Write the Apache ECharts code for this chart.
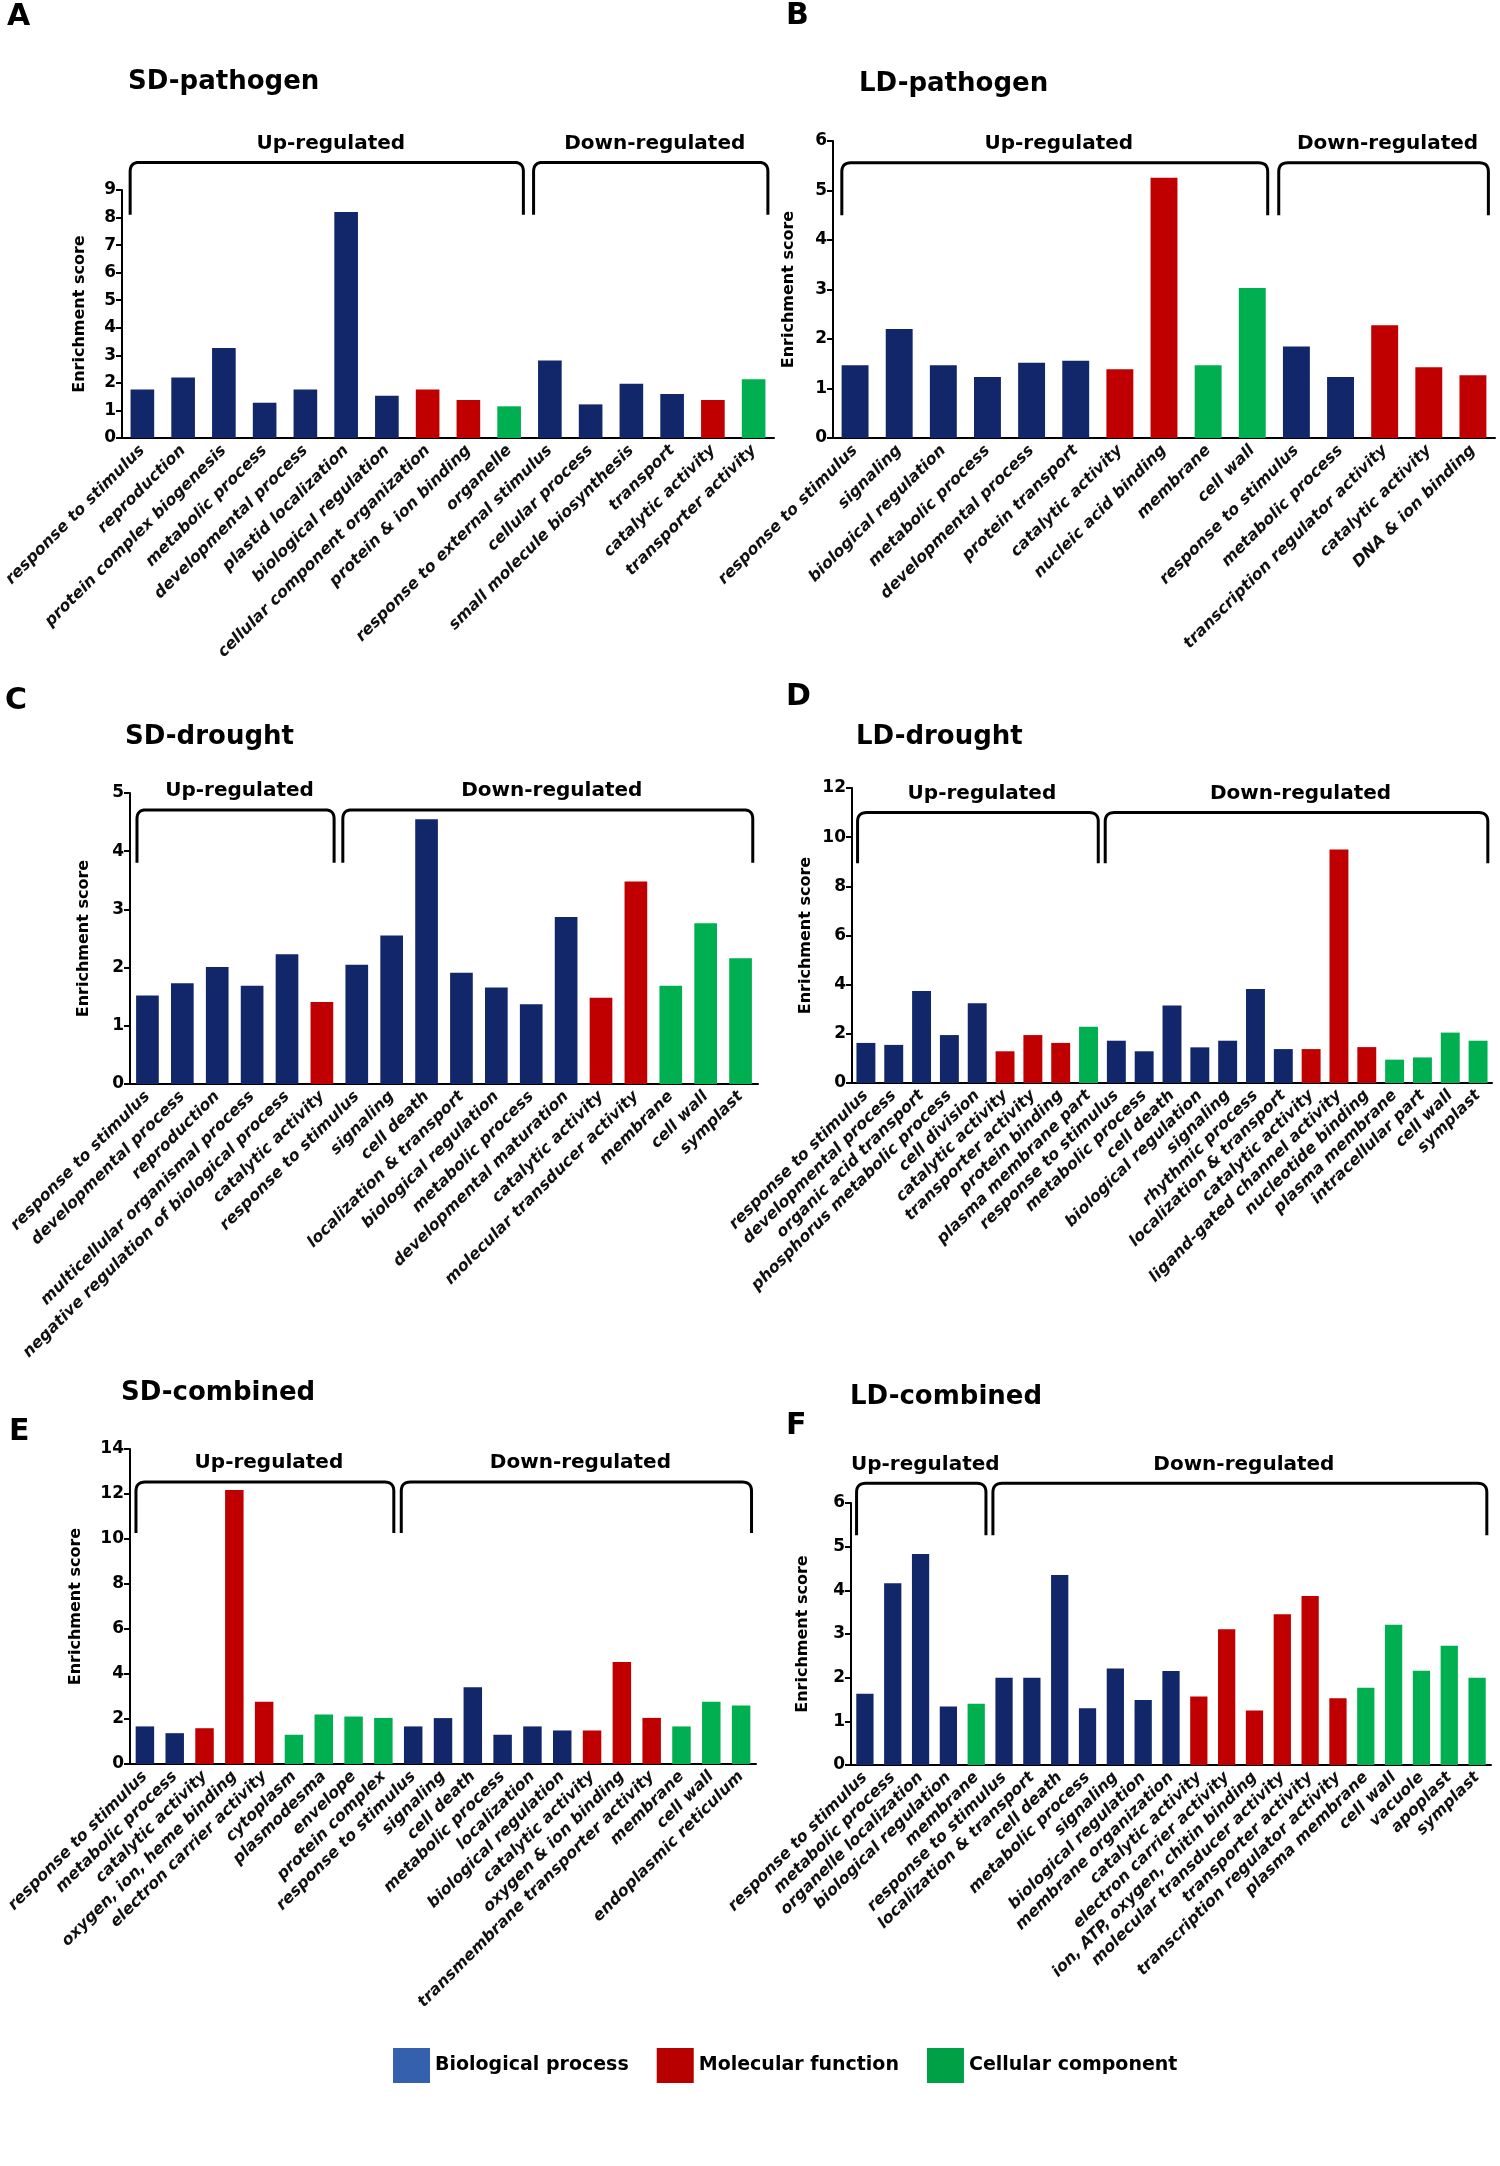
<!DOCTYPE html>
<html>
<head>
<meta charset="utf-8">
<title>GO enrichment</title>
<script src="https://cdn.jsdelivr.net/npm/echarts@6/dist/echarts.min.js"></script>
<style>
  html, body { margin: 0; padding: 0; background: #fff; }
  #main { width: 1500px; height: 2166px; }
</style>
</head>
<body>
<div id="main"></div>
<script>
// GO class of each term: B = biological process, M = molecular function, C = cellular component
// "up" = how many of the first terms are up-regulated, the rest are down-regulated

var sdPathogenCats = ['response to stimulus', 'reproduction', 'protein complex biogenesis', 'metabolic process',
  'developmental process', 'plastid localization', 'biological regulation', 'cellular component organization',
  'protein & ion binding', 'organelle', 'response to external stimulus', 'cellular process',
  'small molecule biosynthesis', 'transport', 'catalytic activity', 'transporter activity'];
var sdPathogenScores = [1.76, 2.2, 3.27, 1.28, 1.76, 8.2, 1.53, 1.76, 1.38, 1.15, 2.81, 1.22, 1.97, 1.6, 1.38, 2.13];
var sdPathogenClass = 'BBBBBBBMMCBBBBMC';
var sdPathogenUp = 10;

var ldPathogenCats = ['response to stimulus', 'signaling', 'biological regulation', 'metabolic process',
  'developmental process', 'protein transport', 'catalytic activity', 'nucleic acid binding', 'membrane',
  'cell wall', 'response to stimulus', 'metabolic process', 'transcription regulator activity',
  'catalytic activity', 'DNA & ion binding'];
var ldPathogenScores = [1.47, 2.2, 1.47, 1.23, 1.52, 1.56, 1.39, 5.26, 1.47, 3.03, 1.85, 1.23, 2.28, 1.43, 1.27];
var ldPathogenClass = 'BBBBBBMMCCBBMMM';
var ldPathogenUp = 10;

var sdDroughtCats = ['response to stimulus', 'developmental process', 'reproduction',
  'multicellular organismal process', 'negative regulation of biological process', 'catalytic activity',
  'response to stimulus', 'signaling', 'cell death', 'localization & transport', 'biological regulation',
  'metabolic process', 'developmental maturation', 'catalytic activity', 'molecular transducer activity',
  'membrane', 'cell wall', 'symplast'];
var sdDroughtScores = [1.52, 1.73, 2.01, 1.69, 2.23, 1.41, 2.05, 2.55, 4.55, 1.91, 1.66, 1.37, 2.87, 1.48, 3.48, 1.69, 2.76, 2.16];
var sdDroughtClass = 'BBBBBMBBBBBBBMMCCC';
var sdDroughtUp = 6;

var ldDroughtCats = ['response to stimulus', 'developmental process', 'organic acid transport',
  'phosphorus metabolic process', 'cell division', 'catalytic activity', 'transporter activity',
  'protein binding', 'plasma membrane part', 'response to stimulus', 'metabolic process', 'cell death',
  'biological regulation', 'signaling', 'rhythmic process', 'localization & transport', 'catalytic activity',
  'ligand-gated channel activity', 'nucleotide binding', 'plasma membrane', 'intracellular part',
  'cell wall', 'symplast'];
var ldDroughtScores = [1.63, 1.55, 3.74, 1.95, 3.24, 1.29, 1.95, 1.63, 2.29, 1.72, 1.29, 3.15, 1.45, 1.72, 3.82,
  1.38, 1.38, 9.5, 1.46, 0.95, 1.04, 2.05, 1.72];
var ldDroughtClass = 'BBBBBMMMCBBBBBBBMMMCCCC';
var ldDroughtUp = 9;

var sdCombinedCats = ['response to stimulus', 'metabolic process', 'catalytic activity',
  'oxygen, ion, heme binding', 'electron carrier activity', 'cytoplasm', 'plasmodesma', 'envelope',
  'protein complex', 'response to stimulus', 'signaling', 'cell death', 'metabolic process', 'localization',
  'biological regulation', 'catalytic activity', 'oxygen & ion binding', 'transmembrane transporter activity',
  'membrane', 'cell wall', 'endoplasmic reticulum'];
var sdCombinedScores = [1.67, 1.37, 1.59, 12.18, 2.77, 1.3, 2.2, 2.11, 2.05, 1.67, 2.04, 3.41, 1.3, 1.67, 1.49,
  1.49, 4.53, 2.05, 1.67, 2.77, 2.6];
var sdCombinedClass = 'BBMMMCCCCBBBBBBMMMCCC';
var sdCombinedUp = 9;

var ldCombinedCats = ['response to stimulus', 'metabolic process', 'organelle localization',
  'biological regulation', 'membrane', 'response to stimulus', 'localization & transport', 'cell death',
  'metabolic process', 'signaling', 'biological regulation', 'membrane organization', 'catalytic activity',
  'electron carrier activity', 'ion, ATP, oxygen, chitin binding', 'molecular transducer activity',
  'transporter activity', 'transcription regulator activity', 'plasma membrane', 'cell wall', 'vacuole',
  'apoplast', 'symplast'];
var ldCombinedScores = [1.63, 4.16, 4.83, 1.34, 1.4, 2.0, 2.0, 4.35, 1.3, 2.21, 1.49, 2.15, 1.57, 3.11, 1.25,
  3.45, 3.87, 1.53, 1.77, 3.21, 2.16, 2.73, 2.0];
var ldCombinedClass = 'BBBBCBBBBBBBMMMMMMCCCCC';
var ldCombinedUp = 5;

var groupNames = ['Up-regulated', 'Down-regulated'];
var classKeys = ['B', 'M', 'C'];
var classNames = ['Biological process', 'Molecular function', 'Cellular component'];

var panels = [
  { letter: 'A', title: 'SD-pathogen', cats: sdPathogenCats, vals: sdPathogenScores, cls: sdPathogenClass, up: sdPathogenUp, max: 9, step: 1 },
  { letter: 'B', title: 'LD-pathogen', cats: ldPathogenCats, vals: ldPathogenScores, cls: ldPathogenClass, up: ldPathogenUp, max: 6, step: 1 },
  { letter: 'C', title: 'SD-drought', cats: sdDroughtCats, vals: sdDroughtScores, cls: sdDroughtClass, up: sdDroughtUp, max: 5, step: 1 },
  { letter: 'D', title: 'LD-drought', cats: ldDroughtCats, vals: ldDroughtScores, cls: ldDroughtClass, up: ldDroughtUp, max: 12, step: 2 },
  { letter: 'E', title: 'SD-combined', cats: sdCombinedCats, vals: sdCombinedScores, cls: sdCombinedClass, up: sdCombinedUp, max: 14, step: 2 },
  { letter: 'F', title: 'LD-combined', cats: ldCombinedCats, vals: ldCombinedScores, cls: ldCombinedClass, up: ldCombinedUp, max: 6, step: 1 }
];

// page layout (pixels) and bracket heights (in axis units)
var layout = [
  { grid: [122, 190, 652, 248], nameGap: 34, barWidth: '58%', letterPos: [7, 17], titlePos: [128, 82], bracket: [10.0, 8.1] },
  { grid: [833, 141, 662, 297], nameGap: 36, barWidth: '61%', letterPos: [786, 16], titlePos: [859, 84], bracket: [5.56, 4.5] },
  { grid: [130, 793, 628, 291], nameGap: 38, barWidth: '65%', letterPos: [5, 701], titlePos: [125, 737], bracket: [4.71, 3.8] },
  { grid: [852, 788, 640, 295], nameGap: 38, barWidth: '68%', letterPos: [786, 697], titlePos: [856, 737], bracket: [11.0, 8.94] },
  { grid: [130, 1449, 626, 315], nameGap: 46, barWidth: '62%', letterPos: [9, 1432], titlePos: [121, 1393], bracket: [12.53, 10.27] },
  { grid: [851, 1503, 640, 262], nameGap: 40, barWidth: '62%', letterPos: [786, 1426], titlePos: [850, 1397], bracket: [6.45, 5.26] }
];

var barColors = ['#12266a', '#c00000', '#00b050'];
var legendColors = ['#3560ad', '#b80000', '#00a046'];
var FONT = '"DejaVu Sans", sans-serif';

var chart = echarts.init(document.getElementById('main'));

var grids = [], xAxes = [], yAxes = [], series = [];
panels.forEach(function (p, i) {
  var L = layout[i];
  grids.push({ left: L.grid[0], top: L.grid[1], width: L.grid[2], height: L.grid[3], outerBoundsMode: 'none' });
  xAxes.push({
    type: 'category', gridIndex: i, data: p.cats,
    axisLine: { lineStyle: { color: '#000', width: 2 } },
    axisTick: { show: false },
    axisLabel: {
      interval: 0, rotate: 45, margin: 10, color: '#111',
      fontFamily: FONT, fontStyle: 'italic', fontWeight: 'bold', fontSize: 16
    }
  });
  yAxes.push({
    type: 'value', gridIndex: i, min: 0, max: p.max, interval: p.step,
    name: 'Enrichment score', nameLocation: 'middle', nameGap: L.nameGap,
    nameTextStyle: { fontFamily: FONT, fontWeight: 'bold', fontSize: 16, color: '#000' },
    axisLine: { show: true, lineStyle: { color: '#000', width: 2 } },
    axisTick: { show: true, length: 6, lineStyle: { color: '#000', width: 2 } },
    splitLine: { show: false },
    axisLabel: { fontFamily: FONT, fontWeight: 'bold', fontSize: 17, color: '#000', margin: 6 }
  });
  classKeys.forEach(function (k, c) {
    series.push({
      type: 'bar', name: classNames[c], xAxisIndex: i, yAxisIndex: i,
      barWidth: L.barWidth, barGap: '-100%',
      itemStyle: { color: barColors[c] },
      data: p.vals.map(function (v, j) { return p.cls.charAt(j) === k ? v : '-'; })
    });
  });
});

chart.setOption({
  animation: false,
  backgroundColor: '#fff',
  grid: grids,
  xAxis: xAxes,
  yAxis: yAxes,
  legend: {
    left: 388, top: 2043, itemWidth: 37, itemHeight: 35, itemGap: 28, icon: 'rect',
    selectedMode: false,
    textStyle: { fontFamily: FONT, fontWeight: 'bold', fontSize: 19, color: '#000' },
    data: classNames.map(function (n, c) { return { name: n, itemStyle: { color: legendColors[c] } }; })
  },
  series: series
});

// titles, panel letters and the up/down brackets, placed from the axes
function txt(x, y, s, font, align) {
  return {
    type: 'text', x: x, y: y, silent: true,
    style: { text: s, font: font, fill: '#000', align: align, textAlign: align, verticalAlign: 'middle', textVerticalAlign: 'middle' }
  };
}

function bracketPoints(x0, x1, yt, yb, r) {
  var pts = [[x0, yb]];
  var n = 8, t, k;
  for (k = 0; k <= n; k++) {
    t = k / n;
    pts.push([
      (1 - t) * (1 - t) * x0 + 2 * (1 - t) * t * x0 + t * t * (x0 + r),
      (1 - t) * (1 - t) * (yt + r) + 2 * (1 - t) * t * yt + t * t * yt
    ]);
  }
  for (k = 0; k <= n; k++) {
    t = k / n;
    pts.push([
      (1 - t) * (1 - t) * (x1 - r) + 2 * (1 - t) * t * x1 + t * t * x1,
      (1 - t) * (1 - t) * yt + 2 * (1 - t) * t * yt + t * t * (yt + r)
    ]);
  }
  pts.push([x1, yb]);
  return pts;
}

var elements = [];
panels.forEach(function (p, i) {
  var L = layout[i];
  elements.push(txt(L.letterPos[0], L.letterPos[1], p.letter, 'bold 30px ' + FONT, 'left'));
  elements.push(txt(L.titlePos[0], L.titlePos[1], p.title, 'bold 26px ' + FONT, 'left'));

  var c0 = chart.convertToPixel({ gridIndex: i }, [0, 0]);
  var c1 = chart.convertToPixel({ gridIndex: i }, [1, 0]);
  var band = c1[0] - c0[0];
  var yt = chart.convertToPixel({ gridIndex: i }, [0, L.bracket[0]])[1];
  var yb = chart.convertToPixel({ gridIndex: i }, [0, L.bracket[1]])[1];
  var n = p.cats.length;
  var split = chart.convertToPixel({ gridIndex: i }, [p.up, 0])[0] - band / 2;
  var last = chart.convertToPixel({ gridIndex: i }, [n - 1, 0])[0];
  var spans = [
    [c0[0] - 0.3 * band, split - 0.15 * band],
    [split + 0.1 * band, last + 0.35 * band]
  ];
  spans.forEach(function (s, g) {
    elements.push({
      type: 'polyline', silent: true,
      shape: { points: bracketPoints(s[0], s[1], yt, yb, 9) },
      style: { stroke: '#000', lineWidth: 3, fill: null, lineJoin: 'round' }
    });
    elements.push(txt((s[0] + s[1]) / 2 + 4, yt - 19, groupNames[g], 'bold 20px ' + FONT, 'center'));
  });
});

chart.setOption({ graphic: { elements: elements } });
</script>
</body>
</html>
